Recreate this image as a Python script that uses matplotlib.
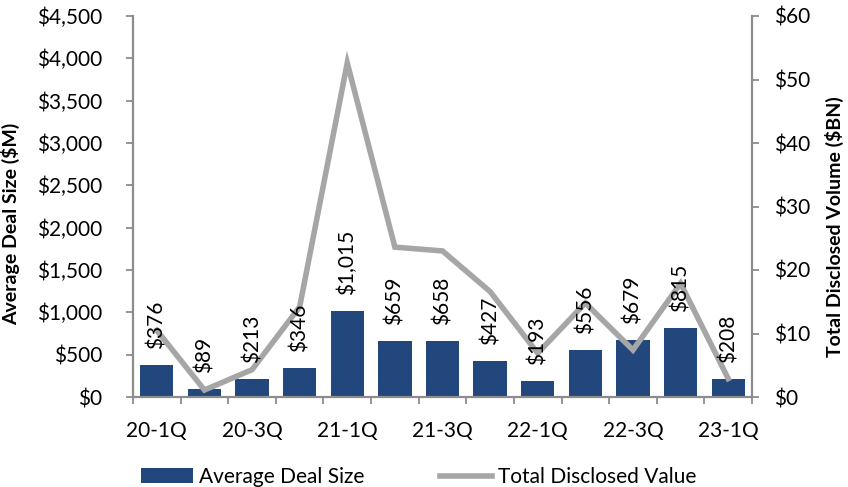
import numpy as np
import matplotlib.pyplot as plt
from matplotlib.ticker import FuncFormatter, MultipleLocator, FixedLocator

quarters = ['20-1Q', '20-2Q', '20-3Q', '20-4Q', '21-1Q', '21-2Q', '21-3Q',
            '21-4Q', '22-1Q', '22-2Q', '22-3Q', '22-4Q', '23-1Q']
avg_deal = [376, 89, 213, 346, 1015, 659, 658, 427, 193, 556, 679, 815, 208]
total_value = [10.5, 1.1, 4.3, 14.2, 52.6, 23.6, 23.0, 16.6, 6.9, 14.8, 7.4, 17.9, 2.9]

plt.rcParams['font.family'] = ['Lato', 'DejaVu Sans']
bar_color = '#21477C'
line_color = '#A6A6A6'
axis_color = '#8C8C8C'
fs = 15

W, H = 848, 487
fig = plt.figure(figsize=(W / 100, H / 100), dpi=100)
# plot area: x 133..752, y 16..397 px
ax = fig.add_axes([133 / W, 1 - 397 / H, (752 - 133) / W, (397 - 16) / H])
ax2 = ax.twinx()

x = np.arange(len(quarters))
bars = ax.bar(x, avg_deal, width=0.7, color=bar_color, zorder=2)
line, = ax2.plot(x, total_value, color=line_color, lw=4, solid_joinstyle='miter', zorder=3)

# data labels above bars, rotated; drawn on the top axes so they sit over the line
for xi, v in zip(x, avg_deal):
    ax2.annotate(f'${v:,}', (xi, v), xycoords=ax.transData, xytext=(0, 11.5),
                 textcoords='offset points', rotation=90, ha='center', va='bottom',
                 fontsize=fs, zorder=5)

ax.set_xlim(-0.5, len(quarters) - 0.5)
ax.set_ylim(0, 4500)
ax2.set_ylim(0, 60)
ax.yaxis.set_major_locator(MultipleLocator(500))
ax2.yaxis.set_major_locator(MultipleLocator(10))
ax.yaxis.set_major_formatter(FuncFormatter(lambda v, p: f'${v:,.0f}'))
ax2.yaxis.set_major_formatter(FuncFormatter(lambda v, p: f'${v:,.0f}'))

# category labels every other quarter, ticks at boundaries
ax.set_xticks(x[::2])
ax.set_xticklabels(quarters[::2])
ax.xaxis.set_minor_locator(FixedLocator(np.arange(-0.5, len(quarters), 1)))
ax.tick_params(axis='x', which='major', length=0, pad=17, labelsize=fs)
ax.tick_params(axis='x', which='minor', length=5, color=axis_color, width=1.3)
ax.tick_params(axis='y', length=5, color=axis_color, width=1.3, labelsize=fs, pad=17)
ax2.tick_params(axis='y', length=5, color=axis_color, width=1.3, labelsize=fs, pad=11)

for a in (ax, ax2):
    a.spines['top'].set_visible(False)
    for s in ('left', 'right', 'bottom'):
        a.spines[s].set_color(axis_color)
        a.spines[s].set_linewidth(1.6)
ax.spines['right'].set_visible(False)
ax2.spines['left'].set_visible(False)
ax2.spines['bottom'].set_visible(False)

fig.text(11 / W, 1 - 224 / H, 'Average Deal Size ($M)', rotation=90, ha='center',
         va='center', fontsize=14, fontweight='bold')
fig.text(834 / W, 1 - 227 / H, 'Total Disclosed Volume ($BN)', rotation=90, ha='center',
         va='center', fontsize=14, fontweight='bold')

fig.legend([bars, line], ['Average Deal Size', 'Total Disclosed Value'],
           loc='center left', bbox_to_anchor=(141 / W, 10 / H), ncol=2, frameon=False,
           fontsize=fs, handlelength=2.5, handleheight=0.7, handletextpad=0.3,
           columnspacing=3.6, borderpad=0, borderaxespad=0)

fig.savefig('out.png', dpi=100)
